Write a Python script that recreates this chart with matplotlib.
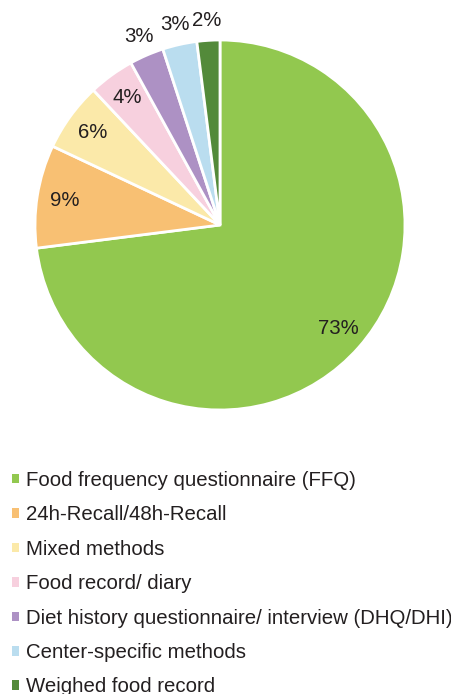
import matplotlib
matplotlib.use("Agg")
import matplotlib.pyplot as plt
import numpy as np

categories = [
    "Food frequency questionnaire (FFQ)",
    "24h-Recall/48h-Recall",
    "Mixed methods",
    "Food record/ diary",
    "Diet history questionnaire/ interview (DHQ/DHI)",
    "Center-specific methods",
    "Weighed food record",
]
values = [73, 9, 6, 4, 3, 3, 2]
colors = ["#92C84F", "#F8C073", "#FBE9A9", "#F7D0DE", "#AD91C4", "#BADDEF", "#538A3A"]
outside = [False, False, False, False, True, True, True]

plt.rcParams['font.family'] = ['Liberation Sans', 'DejaVu Sans']
text_color = "#231F20"

fig = plt.figure(figsize=(4.52, 6.94), dpi=100)
ax = fig.add_axes([35/452, 1 - 410/694, 370/452, 370/694])

wedges, texts, autotexts = ax.pie(
    values, colors=colors, startangle=90, counterclock=False,
    autopct=lambda p: f"{p:.0f}%", pctdistance=0.85,
    wedgeprops=dict(edgecolor="white", linewidth=2.0),
    textprops=dict(fontsize=14.7, color=text_color),
)
ax.set_xlim(-1, 1)
ax.set_ylim(-1, 1)
ax.set_aspect("equal")

for w, t, out in zip(wedges, autotexts, outside):
    if out:
        ang = np.deg2rad((w.theta1 + w.theta2) / 2)
        r = 1.11
        t.set_position((r * np.cos(ang), r * np.sin(ang)))

leg = fig.legend(
    wedges, categories, loc="upper left",
    bbox_to_anchor=(12/452, 1 - 471/694),
    frameon=False, fontsize=14.7, labelcolor=text_color,
    handlelength=0.35, handleheight=0.35, handletextpad=0.35,
    labelspacing=0.755, borderpad=0, borderaxespad=0,
)
for h in leg.legend_handles:
    h.set_linewidth(0)

fig.savefig("out.png", dpi=100)
